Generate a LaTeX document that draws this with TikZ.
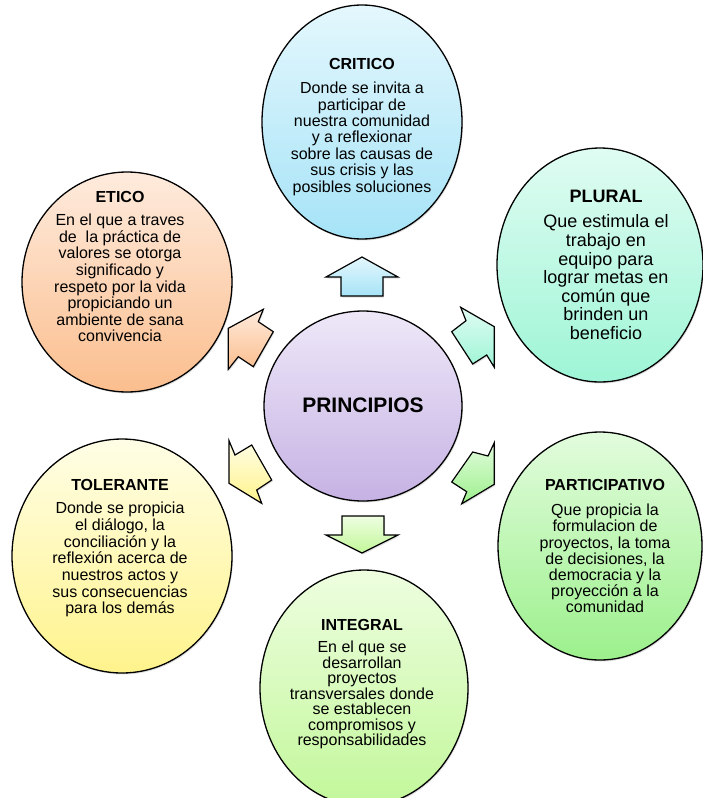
\documentclass[tikz,border=0pt]{standalone}
\usepackage{fontspec}
\setmainfont{Liberation Sans}
\usetikzlibrary{shapes.geometric,shadows}
\definecolor{critTop}{HTML}{E4F7FD}\definecolor{critBot}{HTML}{A6E3F7}
\definecolor{eticTop}{HTML}{FEEBDD}\definecolor{eticBot}{HTML}{FBBE8E}
\definecolor{plurTop}{HTML}{E0FCF2}\definecolor{plurBot}{HTML}{9EF5D6}
\definecolor{partTop}{HTML}{E2FCDD}\definecolor{partBot}{HTML}{9CF08C}
\definecolor{tolTop}{HTML}{FFFEE6}\definecolor{tolBot}{HTML}{FFF38C}
\definecolor{intTop}{HTML}{EEFEE0}\definecolor{intBot}{HTML}{C2F79A}
\definecolor{prinTop}{HTML}{EEE8F8}\definecolor{prinBot}{HTML}{C6B2E4}
\tikzset{
  bub/.style={ellipse, draw=black, line width=1.3pt, inner sep=0pt,
    drop shadow={opacity=0.25, shadow xshift=1pt, shadow yshift=-1.5pt}},
  arr/.style={draw=black, line width=1.2pt, line join=miter,
    drop shadow={opacity=0.25, shadow xshift=1pt, shadow yshift=-1.5pt}},
  txt/.style={align=center, inner sep=0pt, anchor=north, text=black},
}
\begin{document}
\begin{tikzpicture}[x=1pt,y=-1pt]
\useasboundingbox (0,0) rectangle (702,798);
% ellipses
\node[bub, top color=critTop, bottom color=critBot, minimum width=200pt, minimum height=234pt] (crit) at (362,122) {};
\node[bub, top color=eticTop, bottom color=eticBot, minimum width=210pt, minimum height=220pt] (etic) at (127,282) {};
\node[bub, top color=plurTop, bottom color=plurBot, minimum width=206pt, minimum height=234pt] (plur) at (600,265) {};
\node[bub, top color=partTop, bottom color=partBot, minimum width=204pt, minimum height=228pt] (part) at (600,546) {};
\node[bub, top color=tolTop, bottom color=tolBot, minimum width=220pt, minimum height=234pt] (tol) at (122,556) {};
\node[bub, top color=intTop, bottom color=intBot, minimum width=208pt, minimum height=236pt] (integ) at (364,688) {};
\node[bub, top color=prinTop, bottom color=prinBot, minimum width=198pt, minimum height=190pt] (prin) at (363,406) {};
% arrows
\path[arr, top color=critTop, bottom color=critBot]
  (362,257) -- (398,277) -- (383,277) -- (383,296) -- (341,296) -- (341,277) -- (326,277) -- cycle;
\path[arr, top color=intTop, bottom color=intBot]
  (342,516) -- (384,516) -- (384,535) -- (398,535) -- (362,553) -- (326,535) -- (342,535) -- cycle;
\path[arr, top color=eticTop, bottom color=eticBot]
  (263.3,309.3) -- (258.3,321.7) -- (273.3,331.7) -- (253.3,366.7) -- (238.3,356.7) -- (228.3,369.3) -- (228.3,328.3) -- cycle;
\path[arr, top color=plurTop, bottom color=plurBot]
  (460.7,307.3) -- (466,320.7) -- (451.7,331.7) -- (472.7,364) -- (486.7,355) -- (494.3,367.3) -- (494.3,326.7) -- cycle;
\path[arr, top color=partTop, bottom color=partBot]
  (472.7,452) -- (488,456) -- (494.3,442.7) -- (494.3,484.3) -- (461.7,503.8) -- (466.7,491.7) -- (451.7,482) -- cycle;
\path[arr, top color=tolTop, bottom color=tolBot]
  (229,440.7) -- (235,455) -- (251.7,445) -- (271.7,480) -- (256.7,490) -- (261.7,503.3) -- (229,483.3) -- cycle;
% texts
\node[txt, font=\fontsize{16}{16.4}\selectfont] (critT) at (362,58.3)
  {\textbf{CRITICO}\\[7.6pt]Donde se invita a\\participar de\\nuestra comunidad\\y a reflexionar\\sobre las causas de\\sus crisis y las\\posibles soluciones};
\node[txt, font=\fontsize{16}{16.6}\selectfont] (eticT) at (120,191.3)
  {\textbf{ETICO}\\[6.4pt]En el que a traves\\de\ \ la práctica de\\valores se otorga\\significado y\\respeto por la vida\\propiciando un\\ambiente de sana\\convivencia};
\node[txt, font=\fontsize{18}{18.6}\selectfont] (plurT) at (606,189.6)
  {\textbf{PLURAL}\\[7.1pt]Que estimula el\\trabajo en\\equipo para\\lograr metas en\\común que\\brinden un\\beneficio};
\node[txt, font=\fontsize{16}{16.2}\selectfont] (partT) at (605,479.3)
  {\textbf{PARTICIPATIVO}\\[8.8pt]Que propicia la\\formulacion de\\proyectos, la toma\\de decisiones, la\\democracia y la\\proyección a la\\comunidad};
\node[txt, font=\fontsize{16}{16.7}\selectfont] (tolT) at (120,479.3)
  {\textbf{TOLERANTE}\\[6.3pt]Donde se propicia\\el diálogo, la\\conciliación y la\\reflexión acerca de\\nuestros actos y\\sus consecuencias\\para los demás};
\node[txt, font=\fontsize{16}{15.5}\selectfont] (intT) at (362,619.3)
  {\textbf{INTEGRAL}\\[6.5pt]En el que se\\desarrollan\\proyectos\\transversales donde\\se establecen\\compromisos y\\responsabilidades};
\node[font=\fontsize{21}{24}\selectfont\bfseries, inner sep=0pt] (prinT) at (363,405) {PRINCIPIOS};
\end{tikzpicture}
\end{document}
